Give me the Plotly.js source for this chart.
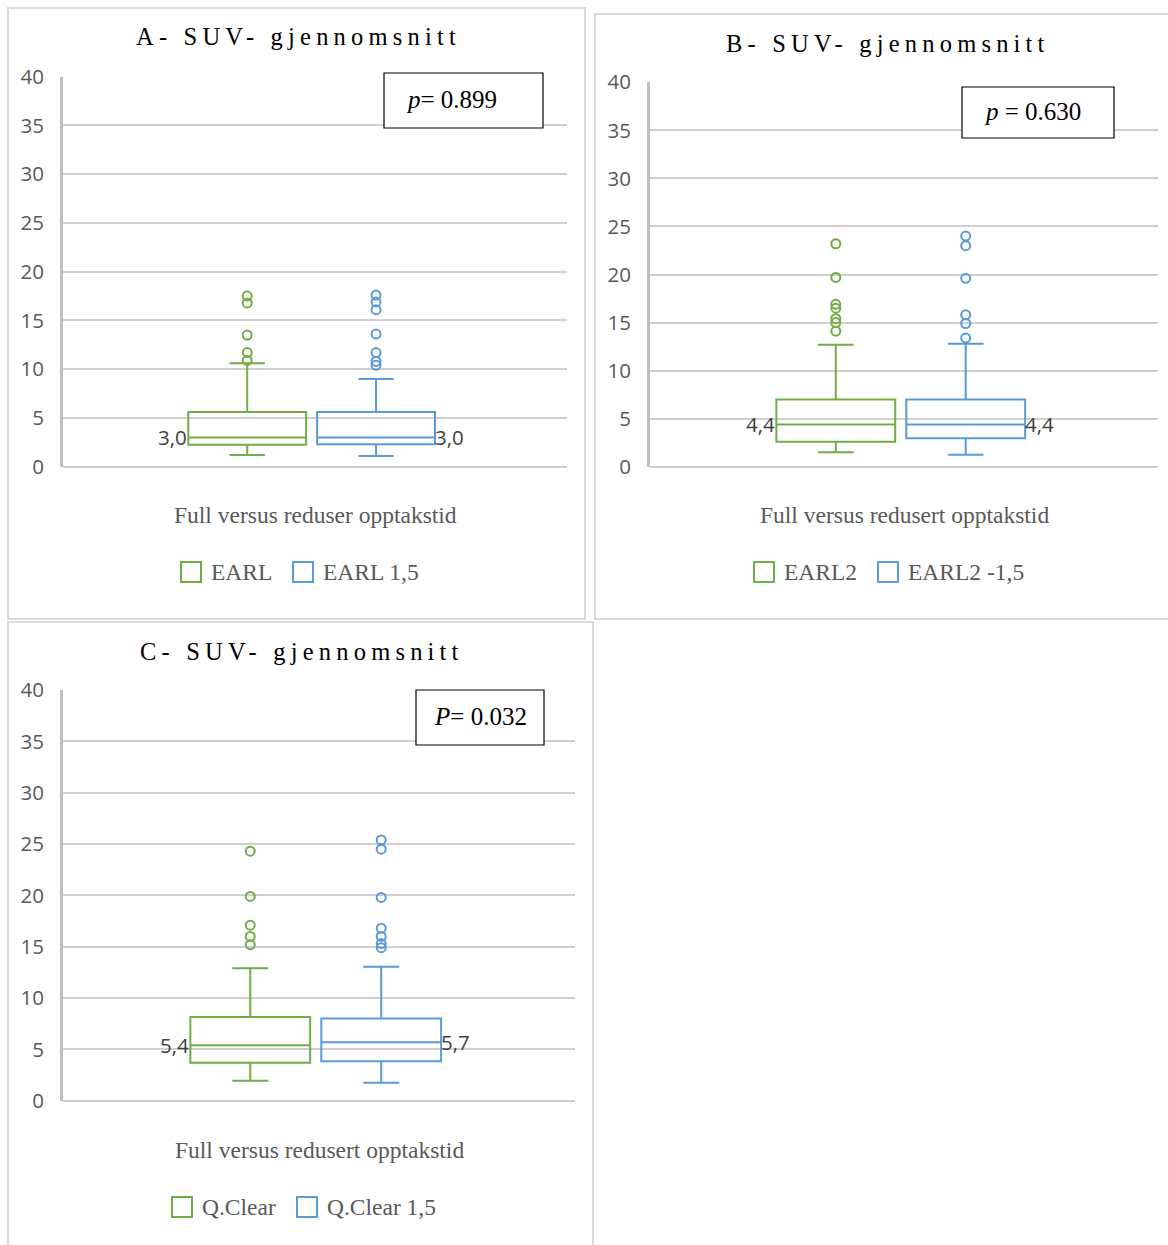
<!DOCTYPE html>
<html>
<head>
<meta charset="utf-8">
<script src="https://cdn.plot.ly/plotly-3.0.1.min.js"></script>
<style>
  html, body { margin: 0; padding: 0; background: #ffffff; }
  #chart { width: 1168px; height: 1245px; }
  .annotation[data-index="0"] .annotation-text,
  .annotation[data-index="1"] .annotation-text,
  .annotation[data-index="2"] .annotation-text { letter-spacing: 5.2px; }
</style>
</head>
<body>
<div id="chart"></div>
<script>
// ---------------- DATA ----------------
const panelTitles = ['A- SUV- gjennomsnitt', 'B- SUV- gjennomsnitt', 'C- SUV- gjennomsnitt'];
const xTitles = ['Full versus reduser opptakstid', 'Full versus redusert opptakstid', 'Full versus redusert opptakstid'];
const pTexts = ['<i>p</i>= 0.899', '<i>p</i> = 0.630', '<i>P</i>= 0.032'];

const seriesA = ['EARL', 'EARL 1,5'];
const seriesB = ['EARL2', 'EARL2 -1,5'];
const seriesC = ['Q.Clear', 'Q.Clear 1,5'];

// box statistics: [green, blue]
const lowerA  = [1.2, 1.1];
const q1A     = [2.25, 2.3];
const medianA = [3.0, 3.0];
const q3A     = [5.6, 5.6];
const upperA  = [10.6, 9.0];
const outliersA_1 = [10.9, 11.7, 13.5, 16.8, 17.5];
const outliersA_2 = [10.4, 10.8, 11.7, 13.6, 16.1, 16.9, 17.6];

const lowerB  = [1.5, 1.25];
const q1B     = [2.6, 2.95];
const medianB = [4.4, 4.4];
const q3B     = [7.0, 7.0];
const upperB  = [12.7, 12.8];
const outliersB_1 = [14.1, 15.0, 15.4, 16.5, 16.9, 19.7, 23.2];
const outliersB_2 = [13.4, 14.9, 15.8, 19.6, 23.0, 24.0];

const lowerC  = [1.95, 1.75];
const q1C     = [3.7, 3.85];
const medianC = [5.4, 5.7];
const q3C     = [8.15, 8.0];
const upperC  = [12.9, 13.05];
const outliersC_1 = [15.2, 16.0, 17.1, 19.9, 24.3];
const outliersC_2 = [14.9, 15.3, 16.0, 16.8, 19.8, 24.5, 25.4];

// ---------------- STYLE / LAYOUT ----------------
const W = 1168, H = 1245;
const px = x => x / W;
const py = y => 1 - y / H;
const GREEN = '#70ad47', BLUE = '#5b9bd5';
const colors = [GREEN, BLUE];
const SERIF = 'Liberation Serif, Times New Roman, serif';
const SANS = 'Open Sans, Liberation Sans, sans-serif';
const BOXW = 0.915;

const panels = [
  { series: seriesA, lower: lowerA, q1: q1A, med: medianA, q3: q3A, upper: upperA, out: [outliersA_1, outliersA_2],
    xd: [63, 566.7], yd: [76.7, 466.7], title: [298, 37], xt: [315, 515],
    p: [384, 543, 73, 128, 451], leg: [[181, 293], 572] },
  { series: seriesB, lower: lowerB, q1: q1B, med: medianB, q3: q3B, upper: upperB, out: [outliersB_1, outliersB_2],
    xd: [650, 1158], yd: [82.3, 466.7], title: [888, 43], xt: [904, 515],
    p: [962, 1114, 87, 138, 1032], leg: [[754, 878], 572] },
  { series: seriesC, lower: lowerC, q1: q1C, med: medianC, q3: q3C, upper: upperC, out: [outliersC_1, outliersC_2],
    xd: [63, 575], yd: [690, 1100.7], title: [302, 651], xt: [319, 1150],
    p: [416, 544, 690, 745, 480], leg: [[172, 297], 1207] }
];

const traces = [];
const layout = {
  width: W, height: H,
  margin: { l: 0, r: 0, t: 0, b: 0 },
  paper_bgcolor: '#ffffff', plot_bgcolor: 'rgba(0,0,0,0)',
  showlegend: false, hovermode: false,
  annotations: [], shapes: []
};

// titles first (indices 0..2 get letter-spacing)
panels.forEach((P, i) => {
  layout.annotations.push({
    xref: 'paper', yref: 'paper', x: px(P.title[0]), y: py(P.title[1]),
    xanchor: 'center', yanchor: 'middle', showarrow: false,
    text: panelTitles[i], font: { family: SERIF, size: 24.5, color: '#000000' }
  });
});

// panel borders
const borders = [[8, 585, 8, 619], [595, 1175, 14, 619], [8, 593, 622, 1260]];
borders.forEach(b => layout.shapes.push({
  type: 'rect', xref: 'paper', yref: 'paper', layer: 'above',
  x0: px(b[0]), x1: px(b[1]), y0: py(b[2]), y1: py(b[3]),
  line: { color: '#d9d9d9', width: 2 }, fillcolor: 'rgba(0,0,0,0)'
}));

panels.forEach((P, i) => {
  const sfx = i === 0 ? '' : String(i + 1);
  const xa = 'x' + sfx, ya = 'y' + sfx;
  layout['xaxis' + sfx] = {
    domain: [px(P.xd[0]), px(P.xd[1])], anchor: ya,
    type: 'category', categoryorder: 'array', categoryarray: P.series,
    range: [-1.43, 2.48], showgrid: false, zeroline: false, showline: false,
    showticklabels: false, ticks: '', fixedrange: true
  };
  layout['yaxis' + sfx] = {
    domain: [py(P.yd[1]), py(P.yd[0])], anchor: xa,
    range: [0, 40], tick0: 0, dtick: 5,
    showgrid: true, gridcolor: '#d0d0d0', gridwidth: 2,
    zeroline: true, zerolinecolor: '#d0d0d0', zerolinewidth: 2,
    showline: true, linecolor: '#bfbfbf', linewidth: 3,
    ticks: '', ticklabelstandoff: 12,
    tickfont: { family: SANS, size: 20.5, color: '#595959' }, fixedrange: true
  };

  P.series.forEach((name, k) => {
    traces.push({
      type: 'box', name: name, xaxis: xa, yaxis: ya,
      x: [name], q1: [P.q1[k]], median: [P.med[k]], q3: [P.q3[k]],
      lowerfence: [P.lower[k]], upperfence: [P.upper[k]],
      boxpoints: false, width: BOXW, whiskerwidth: 0.3,
      line: { color: colors[k], width: 2 }, fillcolor: 'rgba(0,0,0,0)',
      hoverinfo: 'skip'
    });
    traces.push({
      type: 'scatter', mode: 'markers', name: name + ' outliers', xaxis: xa, yaxis: ya,
      x: P.out[k].map(() => name), y: P.out[k],
      marker: { symbol: 'circle-open', size: 9, color: colors[k], line: { width: 2, color: colors[k] } },
      hoverinfo: 'skip'
    });
    // median labels
    layout.annotations.push({
      xref: xa, yref: ya,
      x: k === 0 ? k - BOXW / 2 : k + BOXW / 2, y: P.med[k],
      xanchor: k === 0 ? 'right' : 'left', yanchor: 'middle', yshift: 0,
      xshift: k === 0 ? 1 : -2,
      showarrow: false, text: P.med[k].toFixed(1).replace('.', ','),
      font: { family: SANS, size: 20.5, color: '#404040' }
    });
    // legend
    const lx = P.leg[0][k], ly = P.leg[1];
    layout.shapes.push({
      type: 'rect', xref: 'paper', yref: 'paper', layer: 'above',
      x0: px(lx), x1: px(lx + 20), y0: py(ly - 10), y1: py(ly + 10),
      line: { color: colors[k], width: 2 }, fillcolor: '#ffffff'
    });
    layout.annotations.push({
      xref: 'paper', yref: 'paper', x: px(lx + 28), y: py(ly),
      xanchor: 'left', yanchor: 'middle', showarrow: false, text: name,
      font: { family: SERIF, size: 23.5, color: '#595959' }
    });
  });

  // x-axis title
  layout.annotations.push({
    xref: 'paper', yref: 'paper', x: px(P.xt[0]), y: py(P.xt[1]),
    xanchor: 'center', yanchor: 'middle', showarrow: false, text: xTitles[i],
    font: { family: SERIF, size: 23.5, color: '#595959' }
  });

  // p-value box
  layout.shapes.push({
    type: 'rect', xref: 'paper', yref: 'paper', layer: 'above',
    x0: px(P.p[0]), x1: px(P.p[1]), y0: py(P.p[3]), y1: py(P.p[2]),
    line: { color: '#000000', width: 1.2 }, fillcolor: '#ffffff'
  });
  layout.annotations.push({
    xref: 'paper', yref: 'paper', x: px(P.p[4]), y: py((P.p[2] + P.p[3]) / 2 - 1),
    xanchor: 'center', yanchor: 'middle', showarrow: false, text: pTexts[i],
    font: { family: SERIF, size: 25, color: '#000000' }
  });
});

Plotly.newPlot('chart', traces, layout, { displayModeBar: false, staticPlot: true });
</script>
</body>
</html>
